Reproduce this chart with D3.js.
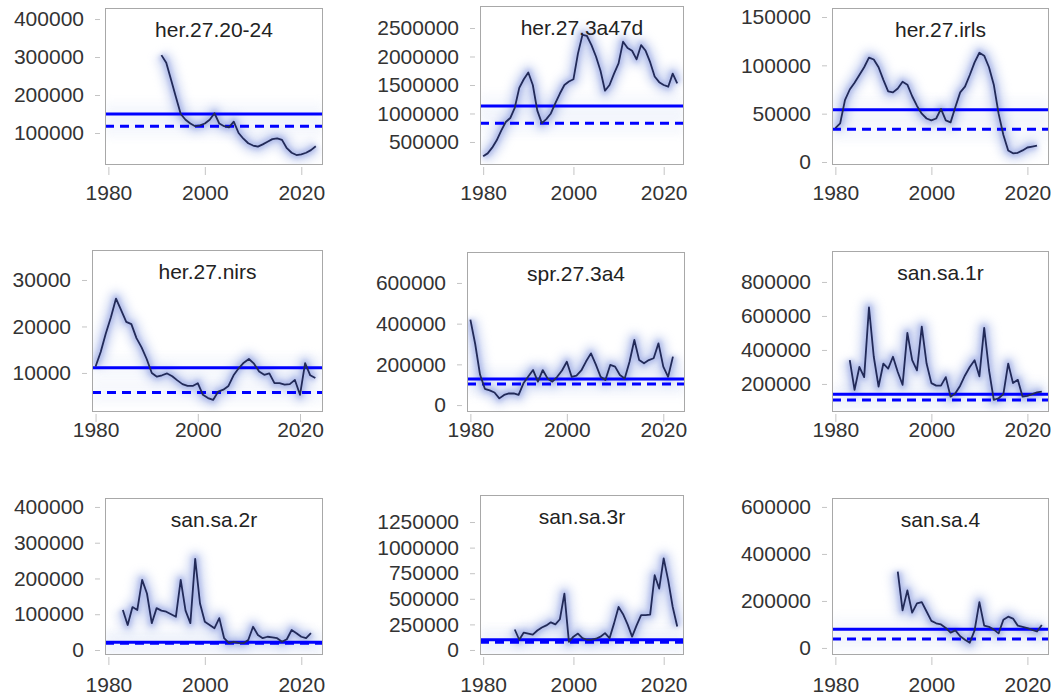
<!DOCTYPE html>
<html>
<head>
<meta charset="utf-8">
<script src="https://cdn.jsdelivr.net/npm/d3@7"></script>
<style>
  body { margin: 0; background: #fff; }
  svg { display: block; font-family: "Liberation Sans", Arial, sans-serif; }
</style>
</head>
<body>
<svg id="chart"></svg>
<script>
const W = 1057, H = 700;

// stock names (panel titles)
const stocks = ["her.27.20-24", "her.27.3a47d", "her.27.irls",
                "her.27.nirs", "spr.27.3a4", "san.sa.1r",
                "san.sa.2r", "san.sa.3r", "san.sa.4"];

// first assessment year of each series
const firstYear = [1991, 1980, 1980, 1980, 1980, 1983, 1983, 1987, 1993];

// SSB estimates, one value per year
const ssbHer2024 = [305000, 285000, 240000, 195000, 150000, 135000, 125000, 118000, 120000, 125000,
  135000, 152000, 125000, 118000, 115000, 130000, 100000, 85000, 73000, 67000,
  64000, 70000, 77000, 84000, 86000, 82000, 60000, 48000, 42000, 44000, 48000, 55000, 65000];
const ssbHer3a47d = [250000, 300000, 400000, 530000, 700000, 850000, 920000, 1100000, 1450000, 1600000,
  1720000, 1500000, 1050000, 830000, 900000, 1000000, 1180000, 1350000, 1500000, 1560000,
  1600000, 2050000, 2380000, 2360000, 2200000, 2000000, 1750000, 1400000, 1500000, 1700000,
  1880000, 2260000, 2150000, 2100000, 1950000, 2200000, 2100000, 1900000, 1650000, 1550000,
  1500000, 1470000, 1700000, 1530000];
const ssbHerIrls = [35000, 40000, 64000, 75000, 82000, 90000, 98000, 108000, 106000, 98000,
  85000, 73000, 72000, 76000, 83000, 80000, 68000, 58000, 50000, 45000,
  43000, 45000, 55000, 43000, 41000, 57000, 72000, 78000, 90000, 103000,
  113000, 110000, 98000, 80000, 50000, 28000, 12000, 9000, 9500, 12000, 15000, 16000, 17000];
const ssbHerNirs = [11400, 14500, 18500, 22000, 26000, 23500, 21000, 20500, 17500, 15500,
  13000, 10000, 9200, 9500, 9900, 9300, 8400, 7600, 7200, 7200,
  7800, 5300, 4600, 4200, 6000, 6400, 7200, 9500, 11000, 12200,
  13000, 12000, 10300, 9600, 9900, 7800, 7800, 7500, 7600, 8500, 5300, 12100, 9500, 8900];
const ssbSpr3a4 = [420000, 300000, 150000, 80000, 72000, 62000, 33000, 50000, 57000, 57000,
  50000, 107000, 140000, 172000, 115000, 172000, 131000, 115000, 139000, 170000,
  213000, 139000, 145000, 170000, 215000, 254000, 200000, 139000, 123000, 197000,
  189000, 148000, 131000, 213000, 320000, 221000, 205000, 221000, 230000, 303000,
  189000, 139000, 238000];
const ssbSan1r = [340000, 165000, 300000, 240000, 650000, 360000, 185000, 320000, 290000, 360000,
  270000, 195000, 500000, 340000, 280000, 537000, 320000, 205000, 190000, 190000,
  240000, 125000, 145000, 190000, 250000, 300000, 340000, 245000, 530000, 282000,
  106000, 116000, 140000, 320000, 205000, 224000, 125000, 130000, 140000, 150000, 155000];
const ssbSan2r = [112000, 70000, 120000, 112000, 196000, 158000, 75000, 117000, 110000, 107000,
  100000, 93000, 196000, 110000, 75000, 255000, 130000, 79000, 70000, 61000,
  89000, 33000, 19000, 23000, 20000, 19000, 28000, 65000, 42000, 33000,
  37000, 35000, 33000, 23000, 30000, 56000, 47000, 37000, 33000, 47000];
const ssbSan3r = [200000, 100000, 170000, 160000, 150000, 190000, 220000, 240000, 270000, 250000,
  300000, 550000, 80000, 130000, 160000, 115000, 100000, 100000, 110000, 130000,
  165000, 115000, 260000, 420000, 350000, 250000, 130000, 240000, 340000, 340000,
  345000, 730000, 600000, 895000, 680000, 420000, 230000];
const ssbSan4 = [325000, 160000, 245000, 150000, 190000, 195000, 155000, 115000, 105000, 100000,
  85000, 65000, 75000, 50000, 35000, 22000, 75000, 195000, 95000, 90000,
  78000, 62000, 120000, 133000, 125000, 95000, 90000, 84000, 77000, 70000, 98000];

const ssbSeries = [ssbHer2024, ssbHer3a47d, ssbHerIrls, ssbHerNirs, ssbSpr3a4,
                   ssbSan1r, ssbSan2r, ssbSan3r, ssbSan4];

// reference points: solid (Bpa/MSY Btrigger) and dashed (Blim)
const bpa  = [150000, 1130000, 54000, 11100, 128000, 140000, 22000, 100000, 80000];
const blim = [118000, 830000, 34000, 5800, 103000, 105000, 19000, 75000, 38000];

// axis ranges and tick labels
const xDomain = [1979.3, 2024.5];
const xTicks = [1980, 2000, 2020];
const yDomains = [[15800, 429000], [96000, 2886000], [-3100, 159300],
                  [1600, 36450], [-34000, 752000], [35000, 982000],
                  [-14000, 425000], [-49000, 1514000], [-30000, 638000]];
const yTicks = [
  [100000, 200000, 300000, 400000],
  [500000, 1000000, 1500000, 2000000, 2500000],
  [0, 50000, 100000, 150000],
  [10000, 20000, 30000],
  [0, 200000, 400000, 600000],
  [200000, 400000, 600000, 800000],
  [0, 100000, 200000, 300000, 400000],
  [0, 250000, 500000, 750000, 1000000, 1250000],
  [0, 200000, 400000, 600000]
];

// panel boxes (left, top, right, bottom) and top of x labels
const boxes = [
  {l: 105, t: 8,   r: 323,  b: 165, lab: 185},
  {l: 480, t: 6,   r: 684,  b: 165, lab: 185},
  {l: 832, t: 8,   r: 1049, b: 165, lab: 185},
  {l: 92,  t: 250, r: 323,  b: 412, lab: 422},
  {l: 467, t: 252, r: 685,  b: 412, lab: 422},
  {l: 832, t: 251, r: 1049, b: 412, lab: 422},
  {l: 105, t: 498, r: 323,  b: 655, lab: 677},
  {l: 480, t: 495, r: 684,  b: 655, lab: 677},
  {l: 832, t: 498, r: 1049, b: 655, lab: 677}
];

const svg = d3.select("#chart").attr("width", W).attr("height", H);
const defs = svg.append("defs");

// soft blur for the uncertainty halo
defs.append("filter").attr("id", "blurWide")
  .attr("filterUnits", "userSpaceOnUse")
  .attr("x", 0).attr("y", 0).attr("width", W).attr("height", H)
  .append("feGaussianBlur").attr("stdDeviation", 4);
defs.append("filter").attr("id", "blurNarrow")
  .attr("filterUnits", "userSpaceOnUse")
  .attr("x", 0).attr("y", 0).attr("width", W).attr("height", H)
  .append("feGaussianBlur").attr("stdDeviation", 2);

stocks.forEach((name, i) => {
  const box = boxes[i];
  const data = ssbSeries[i].map((v, k) => ({year: firstYear[i] + k, ssb: v}));

  const x = d3.scaleLinear().domain(xDomain).range([box.l, box.r]);
  const y = d3.scaleLinear().domain(yDomains[i]).range([box.b, box.t]);

  const g = svg.append("g");

  defs.append("clipPath").attr("id", "clip" + i)
    .append("rect")
    .attr("x", box.l).attr("y", box.t)
    .attr("width", box.r - box.l).attr("height", box.b - box.t);

  const plot = g.append("g").attr("clip-path", `url(#clip${i})`);
  const line = d3.line().x(d => x(d.year)).y(d => y(d.ssb));

  // faint haze around reference levels
  plot.selectAll(".haze")
    .data([bpa[i], blim[i]])
    .enter().append("line")
    .attr("x1", box.l).attr("x2", box.r)
    .attr("y1", d => y(d)).attr("y2", d => y(d))
    .attr("stroke", "#c9d6f2").attr("stroke-width", 24)
    .attr("opacity", 0.15)
    .attr("filter", "url(#blurWide)");

  // uncertainty halo
  plot.append("path").datum(data)
    .attr("d", line)
    .attr("fill", "none")
    .attr("stroke", "#b9c6ee").attr("stroke-width", 16)
    .attr("stroke-linejoin", "round")
    .attr("opacity", 0.55)
    .attr("filter", "url(#blurWide)");
  plot.append("path").datum(data)
    .attr("d", line)
    .attr("fill", "none")
    .attr("stroke", "#8494dc").attr("stroke-width", 7)
    .attr("stroke-linejoin", "round")
    .attr("opacity", 0.45)
    .attr("filter", "url(#blurNarrow)");

  // reference lines
  plot.append("line")
    .attr("x1", box.l).attr("x2", box.r)
    .attr("y1", y(bpa[i])).attr("y2", y(bpa[i]))
    .attr("stroke", "#0000ff").attr("stroke-width", 3);
  plot.append("line")
    .attr("x1", box.l).attr("x2", box.r)
    .attr("y1", y(blim[i])).attr("y2", y(blim[i]))
    .attr("stroke", "#0000ff").attr("stroke-width", 3)
    .attr("stroke-dasharray", "9,6");

  // SSB line
  plot.append("path").datum(data)
    .attr("d", line)
    .attr("fill", "none")
    .attr("stroke", "#222a58").attr("stroke-width", 1.8)
    .attr("stroke-linejoin", "round");

  // panel frame
  g.append("rect")
    .attr("x", box.l + 0.5).attr("y", box.t + 0.5)
    .attr("width", box.r - box.l - 1).attr("height", box.b - box.t - 1)
    .attr("fill", "none").attr("stroke", "#a8a8a8").attr("stroke-width", 1);

  // y axis
  const axY = g.append("g")
    .attr("transform", `translate(${box.l - 5},0)`)
    .call(d3.axisLeft(y).tickValues(yTicks[i]).tickFormat(d3.format("d"))
      .tickSize(5).tickPadding(11));
  axY.select(".domain").remove();
  axY.selectAll(".tick line").attr("stroke", "#c4c4c4");
  axY.selectAll("text")
    .attr("font-family", "Liberation Sans, Arial, sans-serif")
    .attr("font-size", 21).attr("fill", "#333");

  // x axis
  const axX = g.append("g")
    .attr("transform", `translate(0,${box.b + 2})`)
    .call(d3.axisBottom(x).tickValues(xTicks).tickFormat(d3.format("d"))
      .tickSize(8).tickPadding(box.lab - box.b - 10));
  axX.select(".domain").remove();
  axX.selectAll(".tick line").attr("stroke", "#c4c4c4");
  axX.selectAll("text")
    .attr("font-family", "Liberation Sans, Arial, sans-serif")
    .attr("font-size", 21).attr("fill", "#333");

  // title
  g.append("text")
    .attr("x", (box.l + box.r) / 2).attr("y", box.t + 29)
    .attr("text-anchor", "middle")
    .attr("font-size", 21).attr("fill", "#222")
    .text(name);
});
</script>
</body>
</html>
